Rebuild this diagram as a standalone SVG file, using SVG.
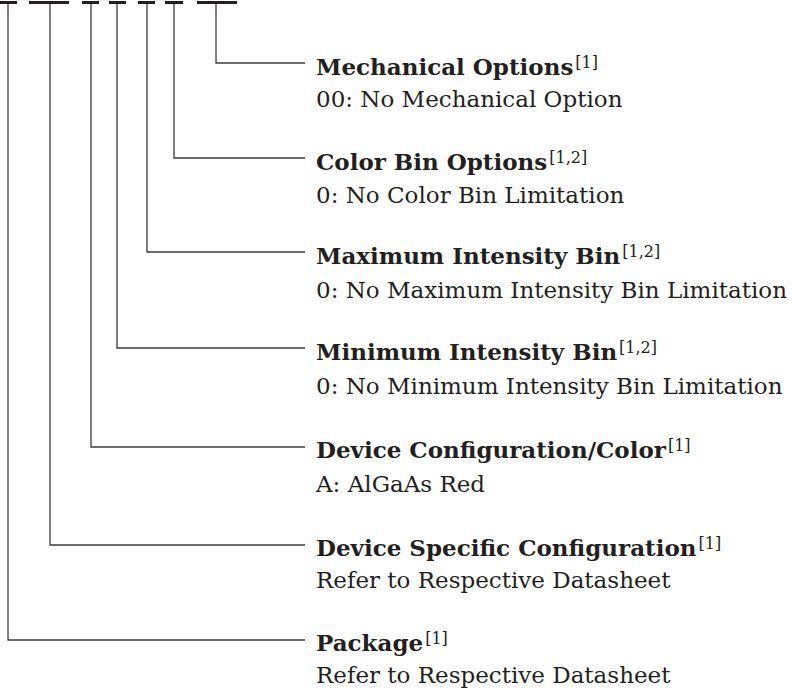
<svg xmlns="http://www.w3.org/2000/svg" width="792" height="692" viewBox="0 0 792 692">
<style>
.bar{stroke:#231f20;stroke-width:3;fill:none}
.ln{stroke:#3a3a3a;stroke-width:1.3;fill:none}
.t{font-family:"DejaVu Serif","Liberation Serif",serif;font-size:23px;fill:#231f20;font-weight:bold}
.s{font-family:"DejaVu Serif","Liberation Serif",serif;font-size:23px;fill:#231f20}
.sup{font-size:16px;font-weight:normal}
</style>
<rect width="792" height="692" fill="#fff"/>
<g id="bars">
<line class="bar" x1="0" y1="2.5" x2="17" y2="2.5"/>
<line class="bar" x1="29" y1="2.5" x2="69" y2="2.5"/>
<line class="bar" x1="82" y1="2.5" x2="99" y2="2.5"/>
<line class="bar" x1="109" y1="2.5" x2="126" y2="2.5"/>
<line class="bar" x1="138" y1="2.5" x2="155" y2="2.5"/>
<line class="bar" x1="165" y1="2.5" x2="183" y2="2.5"/>
<line class="bar" x1="197" y1="2.5" x2="237" y2="2.5"/>
</g>
<g id="connectors">
<polyline class="ln" points="216,4 216,63 305,63"/>
<polyline class="ln" points="174,4 174,158 305,158"/>
<polyline class="ln" points="147,4 147,252 305,252"/>
<polyline class="ln" points="117,4 117,348 305,348"/>
<polyline class="ln" points="91,4 91,447 305,447"/>
<polyline class="ln" points="50,4 50,545 305,545"/>
<polyline class="ln" points="8,4 8,640 305,640"/>
</g>
<g id="mechanical">
<text class="t" x="316" y="75">Mechanical Options<tspan class="sup" dx="2" dy="-7">[1]</tspan></text>
<text class="s" x="316" y="107">00: No Mechanical Option</text>
</g>
<g id="colorbin">
<text class="t" x="316" y="170">Color Bin Options<tspan class="sup" dx="2" dy="-7">[1,2]</tspan></text>
<text class="s" x="316" y="203">0: No Color Bin Limitation</text>
</g>
<g id="maxintensity">
<text class="t" x="316" y="264">Maximum Intensity Bin<tspan class="sup" dx="2" dy="-7">[1,2]</tspan></text>
<text class="s" x="316" y="298">0: No Maximum Intensity Bin Limitation</text>
</g>
<g id="minintensity">
<text class="t" x="316" y="360">Minimum Intensity Bin<tspan class="sup" dx="2" dy="-7">[1,2]</tspan></text>
<text class="s" x="316" y="394">0: No Minimum Intensity Bin Limitation</text>
</g>
<g id="deviceconfig">
<text class="t" x="316" y="458">Device Configuration/Color<tspan class="sup" dx="2" dy="-7">[1]</tspan></text>
<text class="s" x="316" y="492">A: AlGaAs Red</text>
</g>
<g id="devicespecific">
<text class="t" x="316" y="556">Device Specific Configuration<tspan class="sup" dx="2" dy="-7">[1]</tspan></text>
<text class="s" x="316" y="588">Refer to Respective Datasheet</text>
</g>
<g id="package">
<text class="t" x="316" y="651">Package<tspan class="sup" dx="2" dy="-7">[1]</tspan></text>
<text class="s" x="316" y="683">Refer to Respective Datasheet</text>
</g>
</svg>
